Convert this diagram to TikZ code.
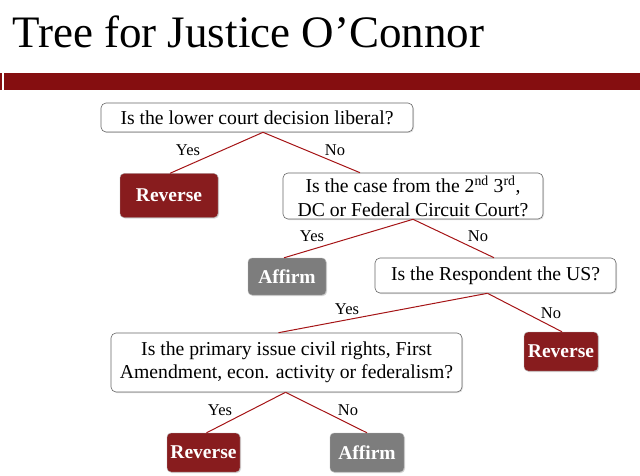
\documentclass[tikz,border=0pt]{standalone}
\usepackage{fontspec}
\setmainfont{Liberation Serif}
\usetikzlibrary{shadows}
\definecolor{barred}{RGB}{133,14,16}
\definecolor{leafred}{RGB}{136,28,30}
\definecolor{leafgray}{RGB}{125,125,125}
\definecolor{linered}{RGB}{165,20,22}
\tikzset{
  qbox/.style={draw=black!60, fill=white, rounded corners=5pt, line width=0.6pt, align=center, inner sep=0pt, font=\fontsize{19.7}{23.5}\selectfont, drop shadow={shadow xshift=1pt, shadow yshift=-1pt, opacity=0.25}},
  leaf/.style={draw=black!30, rounded corners=4pt, inner sep=0pt, text=white, font=\fontsize{19.5}{23}\selectfont\bfseries, drop shadow={shadow xshift=1pt, shadow yshift=-1pt, opacity=0.3}},
  rev/.style={leaf, fill=leafred},
  aff/.style={leaf, fill=leafgray},
  conn/.style={draw=linered, line width=1pt},
  lbl/.style={font=\fontsize{16.5}{19}\selectfont, inner sep=0pt}
}
\begin{document}
\begin{tikzpicture}[x=1pt,y=-1pt]
\useasboundingbox (0,0) rectangle (640,476);
\node[anchor=base west, inner sep=0pt, font=\fontsize{45}{50}\selectfont] (title) at (12,48) {Tree for Justice O’Connor};
\fill[barred] (4,73) rectangle (640,90);
\fill[barred] (0,73) rectangle (2,90);

\node[qbox, minimum width=312pt, minimum height=29pt] (q1) at (257,117.5) {Is the lower court decision liberal?};
\node[rev, minimum width=98pt, minimum height=44pt] (r1) at (169,195.5) {Reverse};
\node[qbox, minimum width=260pt, minimum height=46pt] (q2) at (413,196) {Is the case from the 2\textsuperscript{nd} 3\textsuperscript{rd},\\DC or Federal Circuit Court?};
\node[aff, minimum width=78pt, minimum height=37pt] (a1) at (287,276.5) {Affirm};
\node[qbox, minimum width=241pt, minimum height=35pt] (q3) at (495.5,275.5) {Is the Respondent the US?};
\node[qbox, minimum width=351pt, minimum height=59pt] (q4) at (286.5,362.5) {Is the primary issue civil rights, First\\Amendment, econ. activity or federalism?};
\node[rev, minimum width=74pt, minimum height=39pt] (r2) at (561,351.5) {Reverse};
\node[rev, minimum width=73pt, minimum height=39pt] (r3) at (203.5,452.5) {Reverse};
\node[aff, minimum width=74pt, minimum height=39pt] (a2) at (367,452.5) {Affirm};

\draw[conn] ([xshift=6pt]q1.south) -- ([xshift=1pt]r1.north);
\draw[conn] ([xshift=6pt]q1.south) -- ([xshift=-53pt]q2.north);
\draw[conn] (q2.south) -- ([xshift=-3pt]a1.north);
\draw[conn] (q2.south) -- ([xshift=-1.5pt]q3.north);
\draw[conn] ([xshift=-8pt]q3.south) -- ([xshift=-8pt]q4.north);
\draw[conn] ([xshift=-8pt]q3.south) -- ([xshift=1pt]r2.north);
\draw[conn] ([xshift=-1pt]q4.south) -- ([xshift=3pt]r3.north);
\draw[conn] ([xshift=-1pt]q4.south) -- (a2.north);

\node[lbl] (y1) at (188,150) {Yes};
\node[lbl] (n1) at (335,150) {No};
\node[lbl] (y2) at (312,236) {Yes};
\node[lbl] (n2) at (478,236) {No};
\node[lbl] (y3) at (347,309) {Yes};
\node[lbl] (n3) at (551,313) {No};
\node[lbl] (y4) at (220,410) {Yes};
\node[lbl] (n4) at (348,410) {No};
\end{tikzpicture}
\end{document}
